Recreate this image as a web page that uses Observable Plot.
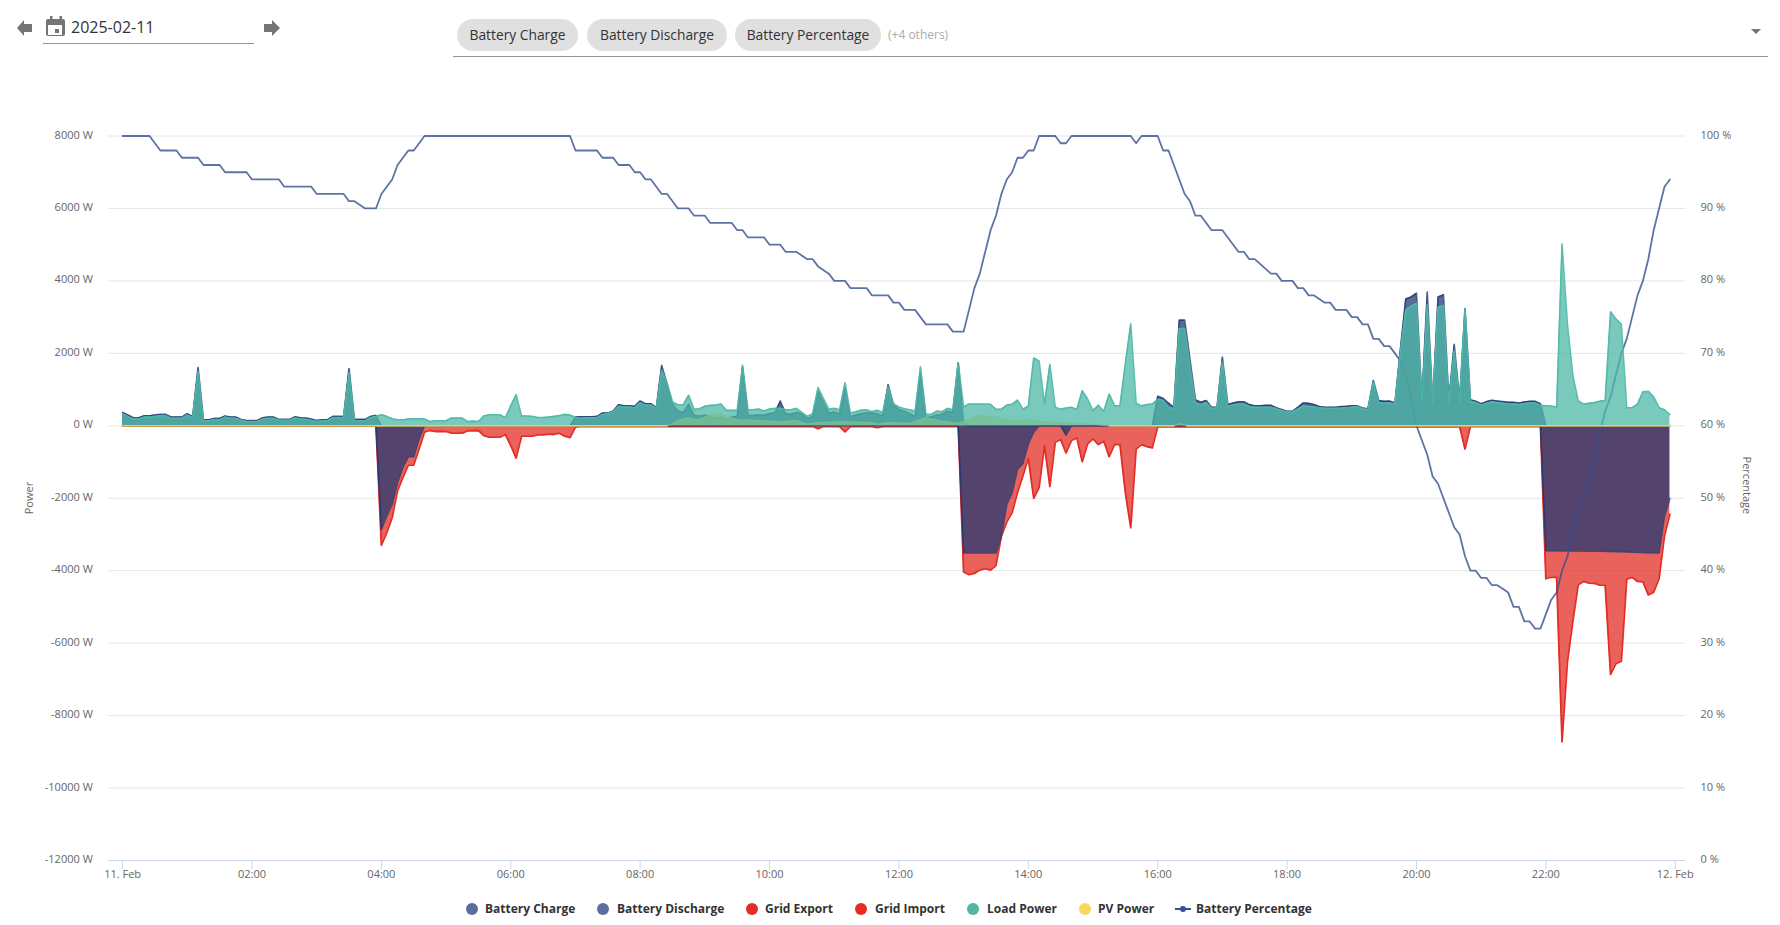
<!DOCTYPE html>
<html>
<head>
<meta charset="utf-8">
<script src="https://cdn.jsdelivr.net/npm/d3@7"></script>
<script src="https://cdn.jsdelivr.net/npm/@observablehq/plot@0.6"></script>
<style>
html,body{margin:0;padding:0;background:#fff;width:1780px;height:925px;overflow:hidden;font-family:"Open Sans",sans-serif}
#chart{position:absolute;left:0;top:75px}
.abs{position:absolute}
.chip{position:absolute;top:19px;height:32px;line-height:32px;border-radius:16px;background:#e0e0e0;color:#333;font-size:13.8px;text-align:center}
.leg{position:absolute;top:901px;font-size:12px;font-weight:700;color:#333;line-height:16px;white-space:nowrap}
.dot{position:absolute;top:903px;width:12px;height:12px;border-radius:6px}
</style>
</head>
<body>
<svg class="abs" style="left:0;top:0" width="1780" height="70">
  <path d="M32 24h-8v-4l-7 8 7 8v-4h8z" fill="#757575"/>
  <path d="M264 24h8v-4l8 8-8 8v-4h-8z" fill="#757575"/>
  <path d="M48 19h2v-3h2.500v3h7v-3h2.500v3h1a2 2 0 0 1 2 2v13a2 2 0 0 1-2 2H48a2 2 0 0 1-2-2V21a2 2 0 0 1 2-2zm0 6v10h14V25zm7 4h4v4h-4z" fill="#757575" fill-rule="evenodd"/>
  <path d="M1754 29h10l-5 5z" fill="#757575" transform="translate(-3,0)"/>
</svg>
<div class="abs" style="left:71px;top:15px;font-size:16px;color:#333;line-height:24px">2025-02-11</div>
<div class="abs" style="left:43px;top:43px;width:211px;height:1px;background:#949494"></div>
<div class="chip" style="left:457px;width:121px">Battery Charge</div>
<div class="chip" style="left:587px;width:140px">Battery Discharge</div>
<div class="chip" style="left:735px;width:146px">Battery Percentage</div>
<div class="abs" style="left:888px;top:27px;font-size:12px;line-height:16px;color:#aaa">(+4 others)</div>
<div class="abs" style="left:453px;top:56px;width:1315px;height:1px;background:#949494"></div>
<div id="chart"></div>
<script>
// [minutes after midnight, value]
const batteryCharge = [[0,370],[5,296],[10,222],[15,222],[20,278],[25,278],[30,296],[35,315],[40,315],[45,241],[50,241],[55,241],[60,333],[65,259],[70,1611],[75,167],[80,167],[85,204],[90,204],[95,269],[100,241],[105,241],[110,176],[115,148],[120,148],[125,148],[130,222],[135,241],[140,241],[145,176],[150,176],[155,176],[160,250],[165,222],[170,213],[175,185],[180,148],[185,167],[190,167],[195,259],[200,259],[205,259],[210,1583],[215,176],[220,176],[225,176],[230,259],[235,287],[240,0],[415,0],
[420,240],[425,250],[430,250],[435,250],[440,260],[445,350],[450,350],[455,410],[460,580],[465,555],[470,555],[475,537],[480,685],[485,610],[490,610],[495,500],[500,1667],[505,1150],[510,600],[515,420],[520,360],[525,600],[530,290],[535,270],[540,290],[545,270],[550,210],[555,240],[560,170],[565,240],[570,260],[575,1630],[580,280],[585,290],[590,300],[595,290],[600,340],[605,360],[610,685],[615,330],[620,320],[625,370],[630,330],[635,200],[640,250],[645,950],[650,650],[655,350],[660,380],[665,330],[670,1080],[675,250],[680,300],[685,330],[690,360],[695,350],[700,330],[705,280],[710,1139],[715,560],[720,450],[725,400],[730,340],[735,250],[740,1500],[745,220],[750,240],[755,300],[760,320],[765,400],[770,370],[775,1741],[780,40],[785,0],[955,0],
[960,815],[965,760],[970,630],[975,510],[980,2917],[985,2917],[990,1815],[995,720],[1000,650],[1005,700],[1010,510],[1015,510],[1020,1900],[1025,590],[1030,630],[1035,665],[1040,665],[1045,585],[1050,555],[1055,555],[1060,565],[1065,565],[1070,500],[1075,450],[1080,400],[1085,400],[1090,510],[1095,630],[1100,620],[1105,585],[1110,535],[1115,510],[1120,510],[1125,510],[1130,530],[1135,540],[1140,555],[1145,555],[1150,490],[1155,470],[1160,1250],[1165,700],[1170,675],[1175,685],[1180,630],[1185,2090],[1190,3500],[1195,3555],[1200,3660],[1205,700],[1210,3690],[1215,610],[1220,3555],[1225,3620],[1230,700],[1235,2250],[1240,700],[1245,3240],[1250,720],[1255,680],[1260,610],[1265,667],[1270,704],[1275,685],[1280,667],[1285,648],[1290,648],[1295,630],[1300,657],[1305,676],[1310,676],[1315,611],[1320,0],[1435,0]];

const batteryDischarge = [[0,0],[235,0],[240,-2861],[245,-2490],[250,-2167],[255,-1565],[260,-1148],[265,-852],[270,-852],[275,-361],[280,0],[775,0],[780,-3510],[810,-3510],[815,-3046],[820,-2167],[825,-1843],[830,-1195],[835,-1037],[840,-500],[845,-176],[850,0],[870,0],[875,-260],[880,0],[1315,0],[1320,-3445],[1345,-3455],[1370,-3465],[1395,-3480],[1415,-3500],[1425,-3510],[1430,-2490],[1435,-2010]];

const gridExport = [[0,0],[1435,0]];

const gridImport = [[0,-10],[235,-10],[240,-3297],[245,-2954],[250,-2537],[255,-1796],[260,-1426],[265,-1083],[270,-1083],[275,-639],[280,-176],[285,-130],[290,-157],[295,-157],[300,-157],[305,-204],[315,-204],[320,-139],[330,-130],[335,-269],[340,-315],[350,-315],[355,-240],[360,-546],[365,-890],[370,-287],[380,-287],[385,-250],[390,-250],[395,-230],[400,-240],[405,-204],[410,-287],[415,-324],[420,-37],[425,-15],[640,-20],[645,-80],[650,-20],[665,-20],[670,-170],[675,-20],[695,-20],[700,-50],[705,-20],[775,-20],
[780,-4037],[785,-4111],[790,-4074],[795,-3982],[800,-3945],[805,-3982],[810,-3861],[815,-3046],[820,-2658],[825,-2398],[830,-1843],[835,-1380],[840,-898],[845,-2000],[850,-1704],[855,-546],[860,-1676],[865,-454],[870,-380],[875,-750],[880,-407],[885,-333],[890,-991],[895,-500],[900,-361],[905,-519],[910,-426],[915,-852],[920,-519],[925,-519],[930,-1843],[935,-2815],[940,-639],[945,-519],[950,-574],[955,-611],[960,-30],[1240,-20],[1245,-639],[1250,-20],[1315,-20],
[1320,-4222],[1325,-4176],[1330,-4185],[1335,-8723],[1340,-6519],[1345,-5408],[1350,-4389],[1355,-4297],[1360,-4343],[1365,-4352],[1370,-4398],[1375,-4398],[1380,-6862],[1385,-6565],[1390,-6500],[1395,-4232],[1400,-4185],[1405,-4297],[1410,-4306],[1415,-4667],[1420,-4593],[1425,-4222],[1430,-3046],[1435,-2445]];

const loadPower = [[0,330],[5,260],[10,190],[15,190],[20,240],[25,240],[30,260],[35,280],[40,280],[45,210],[50,210],[55,210],[60,300],[65,230],[70,1490],[75,140],[80,140],[85,170],[90,170],[95,240],[100,210],[105,210],[110,150],[115,120],[120,120],[125,120],[130,190],[135,210],[140,210],[145,150],[150,150],[155,150],[160,220],[165,190],[170,180],[175,150],[180,120],[185,140],[190,140],[195,230],[200,230],[205,230],[210,1470],[215,140],[220,140],[225,140],[230,230],[235,260],
[240,305],[245,260],[250,195],[255,167],[260,167],[265,185],[270,195],[275,195],[280,185],[285,120],[290,139],[295,139],[300,139],[305,213],[310,213],[315,213],[320,120],[325,130],[330,120],[335,269],[340,305],[345,305],[350,305],[355,222],[360,550],[365,860],[370,269],[375,269],[380,260],[385,230],[390,230],[395,240],[400,260],[405,280],[410,315],[415,296],[420,230],[425,210],[430,220],[435,220],[440,230],[445,310],[450,340],[455,390],[460,540],[465,520],[470,520],[475,500],[480,640],[485,570],[490,570],[495,470],[500,1530],[505,1167],[510,657],[515,583],[520,583],[525,843],[530,454],[535,472],[540,537],[545,565],[550,574],[555,602],[560,426],[565,426],[570,426],[575,1667],[580,444],[585,444],[590,463],[595,407],[600,463],[605,481],[610,481],[615,444],[620,444],[625,481],[630,370],[635,260],[640,333],[645,1056],[650,750],[655,463],[660,481],[665,444],[670,1185],[675,352],[680,389],[685,426],[690,444],[695,389],[700,426],[705,370],[710,1074],[715,611],[720,518],[725,472],[730,444],[735,407],[740,1630],[745,315],[750,315],[755,407],[760,389],[765,481],[770,444],[775,1741],[780,518],[785,602],[790,602],[795,602],[800,602],[805,593],[810,454],[815,454],[820,574],[825,593],[830,710],[835,460],[840,540],[845,1870],[850,1790],[855,600],[860,1700],[865,510],[870,460],[875,490],[880,510],[885,450],[890,970],[895,740],[900,420],[905,570],[910,400],[915,880],[920,555],[925,555],[930,1720],[935,2815],[940,620],[945,550],[950,590],[955,600],[960,730],[965,700],[970,510],[975,470],[980,2685],[985,2685],[990,1630],[995,620],[1000,585],[1005,640],[1010,480],[1015,500],[1020,1770],[1025,540],[1030,575],[1035,600],[1040,600],[1045,530],[1050,510],[1055,510],[1060,510],[1065,510],[1070,470],[1075,420],[1080,380],[1085,380],[1090,465],[1095,545],[1100,530],[1105,520],[1110,500],[1115,485],[1120,485],[1125,485],[1130,490],[1135,500],[1140,510],[1145,530],[1150,470],[1155,450],[1160,1210],[1165,640],[1170,620],[1175,630],[1180,600],[1185,2000],[1190,3200],[1195,3300],[1200,3380],[1205,660],[1210,3340],[1215,610],[1220,3270],[1225,3320],[1230,650],[1235,2060],[1240,650],[1245,3240],[1250,675],[1255,640],[1260,575],[1265,620],[1270,660],[1275,640],[1280,620],[1285,600],[1290,600],[1295,585],[1300,610],[1305,630],[1310,630],[1315,565],
[1320,555],[1325,546],[1330,518],[1335,5020],[1340,2800],[1345,1400],[1350,690],[1355,600],[1360,620],[1365,640],[1370,680],[1375,700],[1380,3150],[1385,2950],[1390,2800],[1395,500],[1400,500],[1405,600],[1410,940],[1415,950],[1420,800],[1425,500],[1430,440],[1435,310]];

const pvPower = [[0,0],[505,0],[510,50],[515,150],[525,222],[533,165],[542,260],[553,350],[561,260],[570,165],[585,150],[600,130],[610,110],[625,148],[635,40],[645,90],[670,110],[695,90],[700,40],[710,90],[730,70],[745,220],[760,130],[775,70],[795,280],[810,240],[825,130],[840,170],[855,110],[870,90],[905,30],[915,0],[975,0],[981,60],[987,0],[1435,0]];

const batteryPercentage = [[0,100],[25,100],[35,98],[50,98],[55,97],[70,97],[75,96],[90,96],[95,95],[115,95],[120,94],[145,94],[150,93],[175,93],[180,92],[205,92],[210,91],[215,91],[225,90],[235,90],[240,92],[250,94],[255,96],[265,98],[270,98],[280,100],[415,100],[420,98],[440,98],[445,97],[455,97],[460,96],[470,96],[475,95],[480,95],[485,94],[490,94],[500,92],[505,92],[515,90],[525,90],[530,89],[540,89],[545,88],[565,88],[570,87],[575,87],[580,86],[595,86],[600,85],[610,85],[615,84],[625,84],[635,83],[640,83],[645,82],[655,81],[660,80],[670,80],[675,79],[690,79],[695,78],[710,78],[715,77],[720,77],[725,76],[735,76],[745,74],[765,74],[770,73],[780,73],[785,76],[790,79],[795,81],[800,84],[805,87],[810,89],[815,92],[820,94],[825,95],[830,97],[835,97],[840,98],[845,98],[850,100],[865,100],[870,99],[875,99],[880,100],[935,100],[940,99],[945,100],[960,100],[965,98],[970,98],[975,96],[980,94],[985,92],[990,91],[995,89],[1000,89],[1010,87],[1020,87],[1035,84],[1040,84],[1045,83],[1050,83],[1065,81],[1070,81],[1075,80],[1085,80],[1090,79],[1095,79],[1100,78],[1105,78],[1115,77],[1120,77],[1125,76],[1135,76],[1140,75],[1145,75],[1150,74],[1155,74],[1160,72],[1165,72],[1170,71],[1175,71],[1185,69],[1190,67],[1195,64],[1200,60],[1205,58],[1210,56],[1215,53],[1220,52],[1225,50],[1230,48],[1235,46],[1240,45],[1245,42],[1250,40],[1255,40],[1260,39],[1265,39],[1270,38],[1275,38],[1280,37.5],[1285,37],[1290,35],[1295,35],[1300,33],[1305,33],[1310,32],[1315,32],[1320,34],[1325,36],[1330,37],[1335,40],[1340,42],[1345,45],[1350,48],[1355,50],[1360,53],[1365,56],[1370,59],[1375,62],[1380,64],[1385,67],[1390,70],[1395,72],[1400,75],[1405,78],[1410,80],[1415,83],[1420,87],[1425,90],[1430,93],[1435,94]];

const powerTicks = [8000,6000,4000,2000,0,-2000,-4000,-6000,-8000,-10000,-12000];
const percentTicks = [100,90,80,70,60,50,40,30,20,10,0];
const hourTicks = [0,120,240,360,480,600,720,840,960,1080,1200,1320,1440];
const hourLabels = ["11. Feb","02:00","04:00","06:00","08:00","10:00","12:00","14:00","16:00","18:00","20:00","22:00","12. Feb"];

const legendLabels = ["Battery Charge","Battery Discharge","Grid Export","Grid Import","Load Power","PV Power","Battery Percentage"];
const legendDots = [472,603,752,861,973,1085,1182];
const legendText = [485,617,765,875,987,1098,1196];

const BLUE="#213973", BLUELEG="#5c6c9e", RED="#e32d25", TEAL="#4cb8a6", YELLOW="#fbd75b";
const t0 = Date.UTC(2025,1,11);
const T = m => new Date(t0 + m*60000);
const rows = a => a.map(([m,v]) => ({t:T(m), v}));
const pctToPower = p => (p-60)*200;          // secondary axis 0..100 % sits on -12000..8000 W
const fo = 0.75;
const area = (a,c) => Plot.areaY(rows(a),{x:"t",y1:0,y2:"v",fill:c,fillOpacity:fo});
const edge = (a,c,w=1.6,o=0.85) => Plot.lineY(rows(a),{x:"t",y:"v",stroke:c,strokeWidth:w,strokeOpacity:o});

const plot = Plot.plot({
  width:1780, height:810,
  marginLeft:108.3, marginRight:95, marginTop:60.5, marginBottom:25,
  style:{fontFamily:'"Open Sans",sans-serif',fontSize:"11px",background:"transparent",overflow:"visible"},
  x:{type:"utc",domain:[T(-12.8),T(1449.5)]},
  y:{domain:[-12000,8000]},
  marks:[
    Plot.ruleY(powerTicks.slice(0,-1),{stroke:"#e6e6e6",strokeWidth:1}),
    Plot.ruleY([-12000],{stroke:"#ccd6eb",strokeWidth:1}),
    Plot.axisX({ticks:hourTicks.map(T),tickFormat:d=>hourLabels[hourTicks.indexOf((d-t0)/60000)],tickSize:9,tickPadding:1,stroke:"#ccd6eb",fill:"#666",label:null}),
    Plot.axisY({anchor:"left",ticks:powerTicks,tickFormat:d=>d+" W",tickSize:0,tickPadding:16,dy:-1,fill:"#666",label:null}),
    Plot.axisY({anchor:"right",ticks:percentTicks.map(pctToPower),tickFormat:d=>Math.round(d/200+60)+" %",tickSize:0,tickPadding:15,dy:-1,fill:"#666",label:null}),
    Plot.text(["Power"],{frameAnchor:"left",rotate:-90,dx:-79,dy:16,fill:"#666"}),
    Plot.text(["Percentage"],{frameAnchor:"right",rotate:90,dx:61.5,dy:16,fill:"#666"}),
    area(gridExport,RED), area(gridImport,RED), edge(gridImport,RED,1.8,1),
    area(batteryCharge,BLUE), area(batteryDischarge,BLUE),
    edge(batteryCharge,BLUE,1.6,0.8), edge(batteryDischarge,BLUE,1.6,0.8),
    area(pvPower,YELLOW), edge(pvPower,YELLOW,1.2,0.6),
    Plot.lineY(rows(batteryPercentage),{x:"t",y:d=>pctToPower(d.v),stroke:"#36508f",strokeWidth:1.8,strokeOpacity:0.8}),
    area(loadPower,TEAL), edge(loadPower,TEAL,1.6,0.9),
    edge(pvPower.slice(0,2),YELLOW,1.5,0.9),
    edge(pvPower.slice(pvPower.length-2),YELLOW,1.5,0.9),
    edge(pvPower.slice(-5,-2).slice(0,1).concat([[975,0]]),YELLOW,1.5,0.9)
  ]
});
document.getElementById("chart").appendChild(plot);

const colors=[BLUELEG,BLUELEG,RED,RED,"#4fb8a1",YELLOW];
legendLabels.forEach((l,i)=>{
  const s=document.createElement("span"); s.className="leg"; s.textContent=l; s.style.left=legendText[i]+"px"; document.body.appendChild(s);
  if(i<6){const d=document.createElement("span"); d.className="dot"; d.style.left=(legendDots[i]-6)+"px"; d.style.background=colors[i]; document.body.appendChild(d);}
  else{
    const m=document.createElement("span"); m.className="abs"; m.style.cssText="left:1175px;top:908px;width:16px;height:2px;background:#36508f"; document.body.appendChild(m);
    const k=document.createElement("span"); k.className="abs"; k.style.cssText="left:1180px;top:906px;width:6px;height:6px;border-radius:3px;background:#36508f"; document.body.appendChild(k);
  }
});
</script>
</body>
</html>
